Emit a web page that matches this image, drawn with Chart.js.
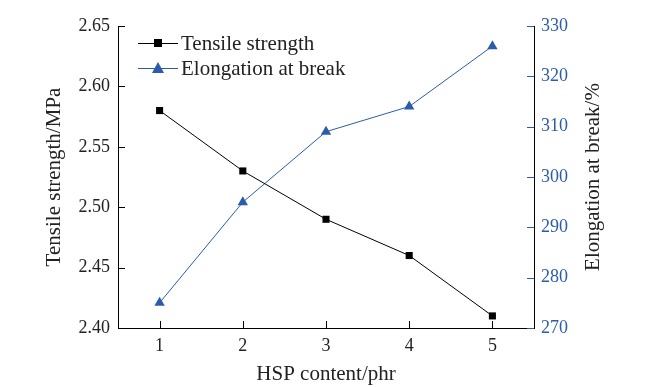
<!DOCTYPE html>
<html>
<head>
<meta charset="utf-8">
<script src="https://cdn.jsdelivr.net/npm/chart.js@4/dist/chart.umd.min.js"></script>
<style>
html,body{margin:0;padding:0;background:#fff}
</style>
</head>
<body>
<canvas id="c" width="660" height="387"></canvas>
<script>
let content=[1,2,3,4,5]
let tensile=[2.58,2.53,2.49,2.46,2.41]
let elongation=[275,295,309,314,326]
let blue="#2b5caa"
let font="'Liberation Serif','Times New Roman',serif"

// inward ticks, right title, legend drawn on top
let extras={
id:"extras",
afterDraw(chart){
let ctx=chart.ctx
let x=chart.scales.x
let yl=chart.scales.y
let yr=chart.scales.y2
let a=chart.chartArea
ctx.save()
ctx.lineWidth=1
ctx.strokeStyle="#000"
x.ticks.forEach(t=>{
let p=Math.round(x.getPixelForValue(t.value))+0.5
ctx.beginPath()
ctx.moveTo(p,a.bottom)
ctx.lineTo(p,a.bottom-7)
ctx.stroke()
})
yl.ticks.forEach(t=>{
let p=Math.round(yl.getPixelForValue(t.value))+0.5
ctx.beginPath()
ctx.moveTo(a.left,p)
ctx.lineTo(a.left+7,p)
ctx.stroke()
})
ctx.strokeStyle=blue
yr.ticks.forEach(t=>{
let p=Math.round(yr.getPixelForValue(t.value))+0.5
ctx.beginPath()
ctx.moveTo(a.right,p)
ctx.lineTo(a.right-7,p)
ctx.stroke()
})
// right axis title, read bottom to top
ctx.save()
ctx.translate(593,(a.top+a.bottom)/2)
ctx.rotate(-Math.PI/2)
ctx.font="21px "+font
ctx.fillStyle="#222"
ctx.textAlign="center"
ctx.textBaseline="middle"
ctx.fillText("Elongation at break/%",0,0)
ctx.restore()
// legend
let items=[
{label:"Tensile strength",color:"#000",style:"rect",y:a.top+17},
{label:"Elongation at break",color:blue,style:"triangle",y:a.top+42}
]
ctx.font="21px "+font
ctx.textBaseline="middle"
items.forEach(it=>{
let lx=a.left+20
ctx.strokeStyle=it.color
ctx.fillStyle=it.color
ctx.beginPath()
ctx.moveTo(lx,it.y+0.5)
ctx.lineTo(lx+40,it.y+0.5)
ctx.stroke()
if(it.style=="rect"){
ctx.fillRect(lx+16,it.y-4,8,8)
}else{
ctx.beginPath()
ctx.moveTo(lx+20,it.y-6)
ctx.lineTo(lx+26,it.y+5)
ctx.lineTo(lx+14,it.y+5)
ctx.closePath()
ctx.fill()
}
ctx.fillStyle="#222"
ctx.fillText(it.label,lx+43,it.y+1)
})
ctx.restore()
}
}

new Chart(
document.getElementById("c"),
{
type:"line",
data:{
datasets:[
{
label:"Tensile strength",
data:content.map((c,i)=>({x:c,y:tensile[i]})),
yAxisID:"y",
borderColor:"#000",
backgroundColor:"#000",
borderWidth:1,
pointStyle:"rect",
pointRadius:5,
pointBorderWidth:0
},
{
label:"Elongation at break",
data:content.map((c,i)=>({x:c,y:elongation[i]})),
yAxisID:"y2",
borderColor:blue,
backgroundColor:blue,
borderWidth:1,
pointStyle:"triangle",
pointRadius:6,
pointBorderWidth:0
}
]
},
plugins:[extras],
options:{
responsive:false,
animation:false,
devicePixelRatio:1,
layout:{padding:{top:26,left:0,right:0,bottom:0}},
plugins:{legend:{display:false},tooltip:{enabled:false}},
scales:{
x:{
type:"linear",
min:0.5,max:5.5,
afterBuildTicks(s){s.ticks=content.map(v=>({value:v}))},
afterFit(s){s.height=59},
grid:{display:false,drawTicks:false},
border:{display:true,color:"#000",width:1},
ticks:{color:"#222",font:{family:font,size:18},padding:7,maxRotation:0},
title:{display:true,text:"HSP content/phr",color:"#222",font:{family:font,size:21},padding:{top:1,bottom:0}}
},
y:{
position:"left",
min:2.40,max:2.65,
ticks:{stepSize:0.05,color:"#222",font:{family:font,size:18},padding:8,callback:v=>v.toFixed(2)},
afterFit(s){s.width=118},
grid:{display:false,drawTicks:false},
border:{display:true,color:"#000",width:1},
title:{display:true,text:"Tensile strength/MPa",color:"#222",font:{family:font,size:21},padding:{top:42,bottom:0}}
},
y2:{
position:"right",
min:270,max:330,
ticks:{stepSize:10,color:blue,font:{family:font,size:18},padding:7},
afterFit(s){s.width=126},
grid:{display:false,drawTicks:false},
border:{display:true,color:"#000",width:1},
title:{display:false}
}
}
}
})
</script>
</body>
</html>
